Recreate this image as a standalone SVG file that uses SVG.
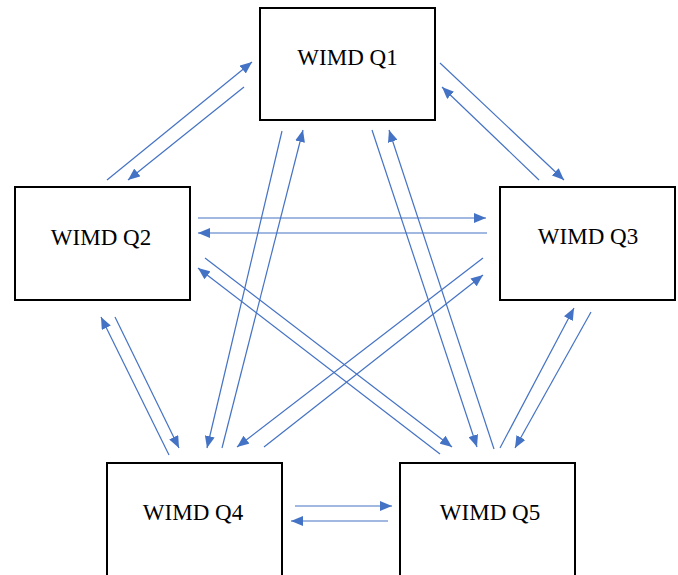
<svg xmlns="http://www.w3.org/2000/svg" width="678" height="575" viewBox="0 0 678 575">
<style>
.box{fill:#fff;stroke:#000;stroke-width:2}
.lbl{font-family:"Liberation Serif","Times New Roman",serif;font-size:23px;fill:#000;text-anchor:middle}
.c{stroke:#4472C4;stroke-width:1.2;fill:none}
.a{marker-end:url(#ah)}
</style>
<defs>
<marker id="ah" viewBox="0 0 12 10" refX="12" refY="5" markerWidth="12" markerHeight="10" markerUnits="userSpaceOnUse" orient="auto">
<path d="M0,0 L12,5 L0,10 z" fill="#4472C4"/>
</marker>
</defs>
<rect width="678" height="575" fill="#fff"/>
<g id="connectors">
<line class="c a" x1="107" y1="180" x2="252" y2="62"/>
<line class="c a" x1="244" y1="87" x2="128" y2="180"/>
<line class="c a" x1="440" y1="63" x2="564" y2="180"/>
<line class="c a" x1="539" y1="180" x2="442" y2="87"/>
<line class="c a" x1="198" y1="218" x2="486" y2="218"/>
<line class="c a" x1="487" y1="233" x2="198" y2="233"/>
<line class="c a" x1="282" y1="131" x2="207" y2="448"/>
<line class="c a" x1="222" y1="448" x2="303" y2="130"/>
<line class="c a" x1="372" y1="130" x2="477" y2="447"/>
<line class="c a" x1="494" y1="449" x2="389" y2="130"/>
<line class="c a" x1="169" y1="455" x2="101" y2="317"/>
<line class="c a" x1="115" y1="317" x2="179" y2="448"/>
<line class="c a" x1="483" y1="258" x2="237" y2="447"/>
<line class="c a" x1="264" y1="447" x2="483" y2="275"/>
<line class="c a" x1="205" y1="258" x2="452" y2="447"/>
<line class="c a" x1="440" y1="454" x2="198" y2="268"/>
<line class="c a" x1="500" y1="448" x2="574" y2="308"/>
<line class="c a" x1="591" y1="312" x2="515" y2="448"/>
<line class="c a" x1="295" y1="506" x2="392" y2="506"/>
<line class="c a" x1="388" y1="521" x2="291" y2="521"/>
</g>
<g id="q1"><rect class="box" x="260" y="8" width="175" height="112"/><text class="lbl" x="347.5" y="65">WIMD Q1</text></g>
<g id="q2"><rect class="box" x="15" y="187" width="175" height="113"/><text class="lbl" x="101" y="245">WIMD Q2</text></g>
<g id="q3"><rect class="box" x="500" y="187" width="175" height="113"/><text class="lbl" x="588" y="244">WIMD Q3</text></g>
<g id="q4"><rect class="box" x="107" y="463" width="175" height="130"/><text class="lbl" x="193" y="520">WIMD Q4</text></g>
<g id="q5"><rect class="box" x="400" y="463" width="175" height="130"/><text class="lbl" x="490" y="520">WIMD Q5</text></g>
</svg>
